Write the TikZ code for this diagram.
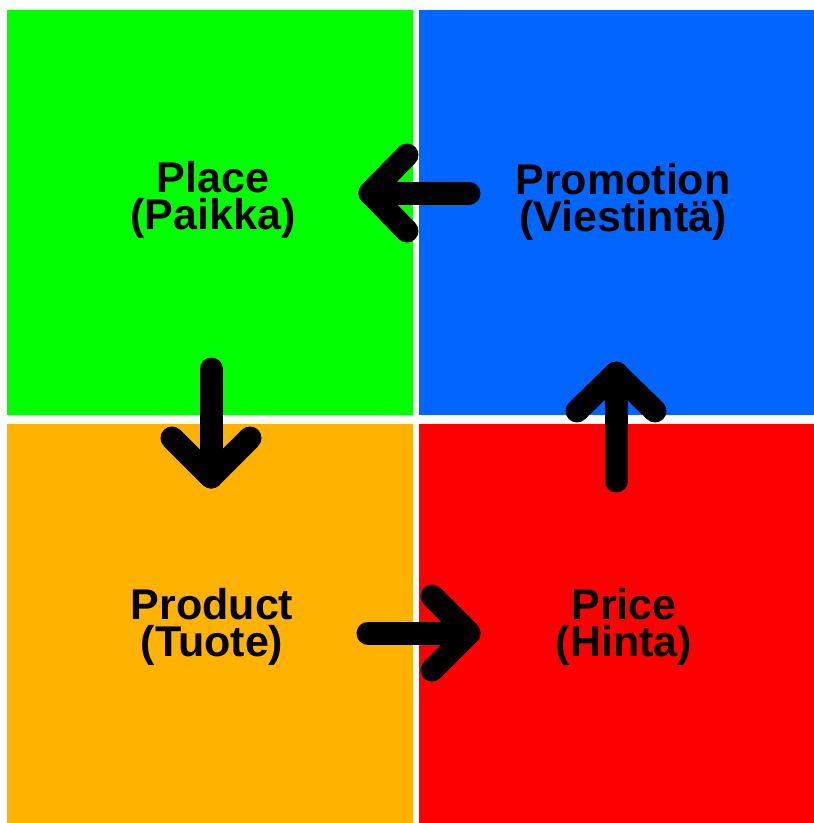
\documentclass[tikz,border=0pt]{standalone}
\usepackage{fontspec}
\setmainfont{Liberation Sans}
\usetikzlibrary{calc}
\definecolor{quadgreen}{HTML}{00FF00}
\definecolor{quadblue}{HTML}{0066FF}
\definecolor{quadorange}{HTML}{FFB300}
\definecolor{quadred}{HTML}{FF0000}
\begin{document}
\begin{tikzpicture}[x=1pt,y=-1pt,
  label4p/.style={align=center,inner sep=0pt,font=\bfseries\fontsize{43}{37}\selectfont},
  flow/.style={line width=23pt,line cap=round,line join=round,black}]
  % canvas
  \fill[white] (0,0) rectangle (814,823);
  \useasboundingbox (0,0) rectangle (814,823);
  % four quadrants
  \fill[quadgreen]  (7,10)    rectangle (413,415);
  \fill[quadblue]   (419,10)  rectangle (814,415);
  \fill[quadorange] (7,424)   rectangle (413,823);
  \fill[quadred]    (419,424) rectangle (814,823);
  % labels
  \node[label4p] (place) at (213,200) {Place\\(Paikka)};
  \node[label4p] (promotion) at (623,201.5) {Promotion\\(Viestintä)};
  \node[label4p] (product) at (212,626.5) {Product\\(Tuote)};
  \node[label4p] (price) at (624,626.5) {Price\\(Hinta)};
  % arrow anchors
  \coordinate (promoTail) at (469,193);
  \coordinate (placeTip) at (370,193);
  \coordinate (placeTail) at (211,369);
  \coordinate (productTip) at (211,477);
  \coordinate (productTail) at (368,633);
  \coordinate (priceTip) at (469,633);
  \coordinate (priceTail) at (616,481);
  \coordinate (promoTip) at (616,373);
  % promotion -> place
  \draw[flow] (promoTail) -- (placeTip);
  \draw[flow] ($(placeTip)+(37,-38)$) -- (placeTip) -- ($(placeTip)+(37,38)$);
  % place -> product
  \draw[flow] (placeTail) -- (productTip);
  \draw[flow] ($(productTip)+(-39,-39)$) -- (productTip) -- ($(productTip)+(39,-39)$);
  % product -> price
  \draw[flow] (productTail) -- (priceTip);
  \draw[flow] ($(priceTip)+(-37,-37)$) -- (priceTip) -- ($(priceTip)+(-37,37)$);
  % price -> promotion
  \draw[flow] (priceTail) -- (promoTip);
  \draw[flow] ($(promoTip)+(-39,38)$) -- (promoTip) -- ($(promoTip)+(39,38)$);
\end{tikzpicture}
\end{document}
